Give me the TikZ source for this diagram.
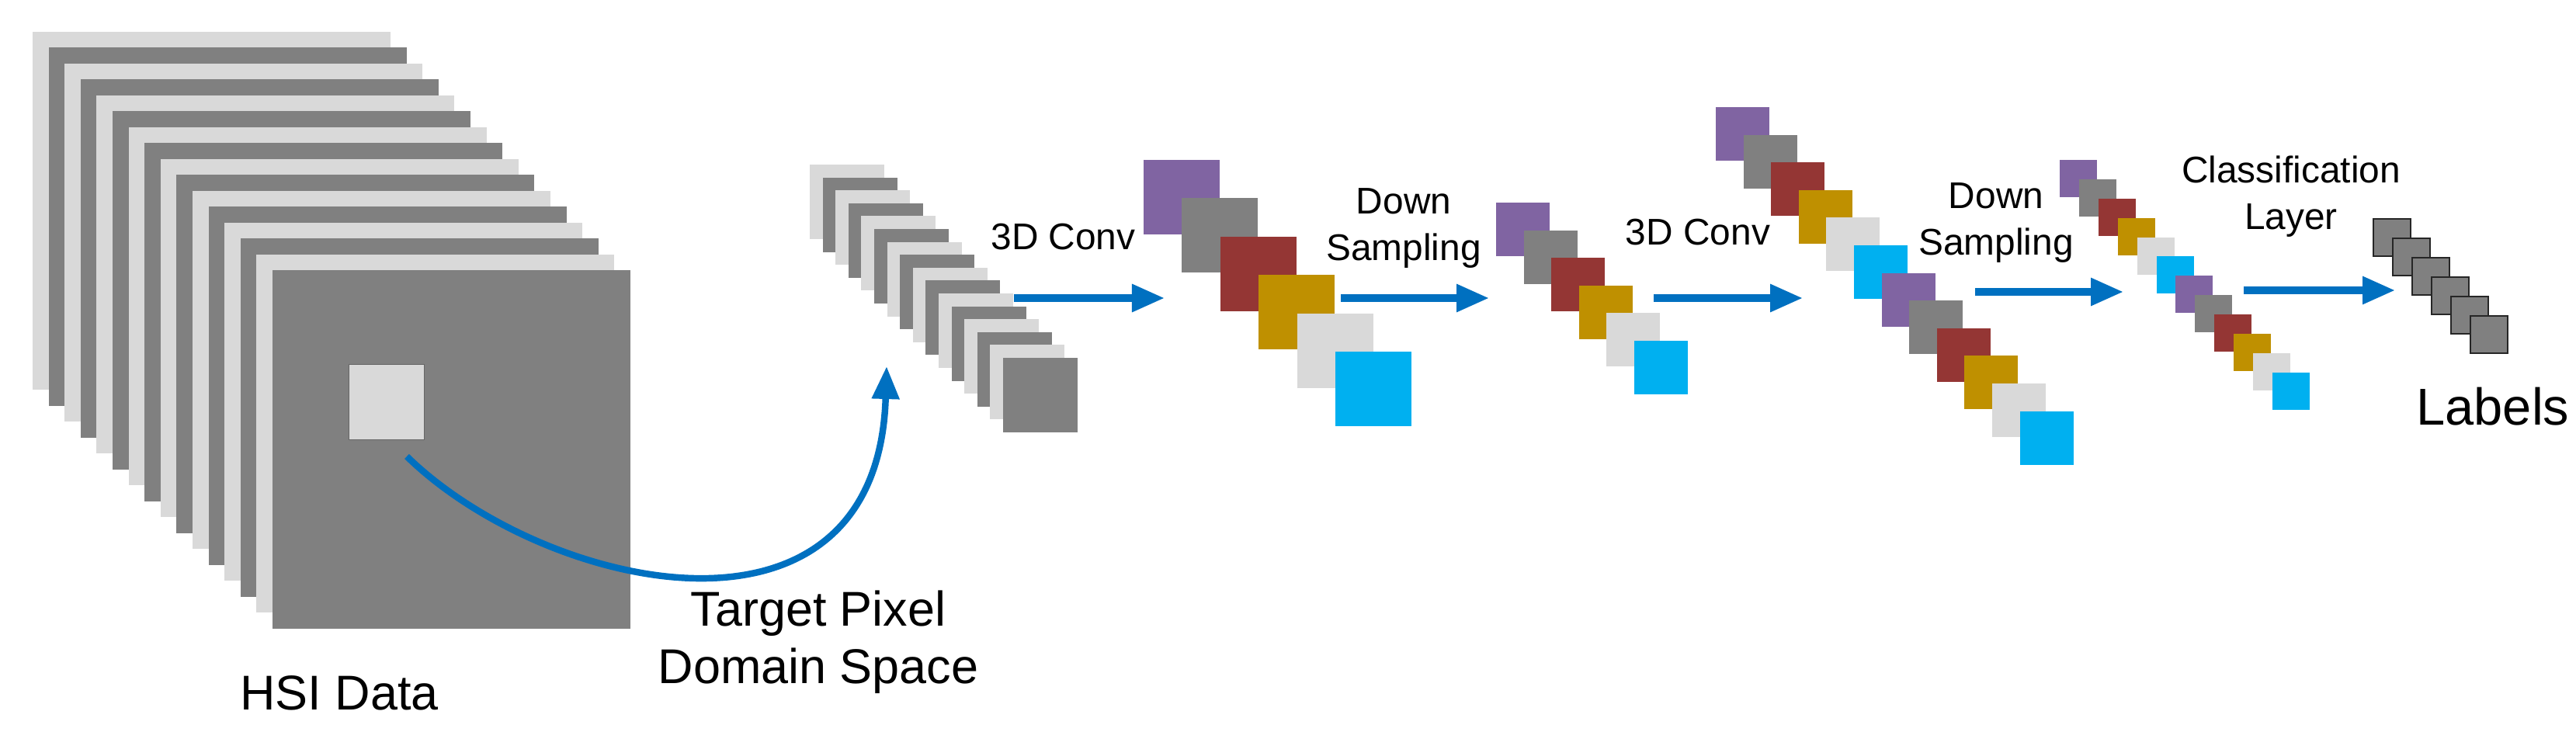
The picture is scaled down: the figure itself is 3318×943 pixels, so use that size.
\documentclass[tikz,border=0pt]{standalone}
\usepackage{fontspec}
\setmainfont{Liberation Sans}
\usetikzlibrary{arrows.meta}
\definecolor{cpur}{HTML}{8064A2}
\definecolor{cgray}{HTML}{808080}
\definecolor{cred}{HTML}{943634}
\definecolor{cgold}{HTML}{BF9000}
\definecolor{clight}{HTML}{D9D9D9}
\definecolor{cblue}{HTML}{00B0F0}
\definecolor{carrow}{HTML}{0070C0}
\begin{document}
\begin{tikzpicture}[x=0.01cm,y=-0.01cm,
  flow/.style={carrow,line width=2.6pt,-{Triangle[length=0.42cm,width=0.34cm]}},
  big/.style={font=\fontsize{17.9}{21}\selectfont,align=center},
  small/.style={font=\fontsize{13.6}{17}\selectfont,align=center}]
\useasboundingbox (0,0) rectangle (3318,943);
% HSI stack
\foreach \i in {0,...,15}{
  \pgfmathsetmacro{\xx}{42+20.6*\i}\pgfmathsetmacro{\yy}{41+20.5*\i}
  \pgfmathparse{mod(\i,2)==0?"clight":"cgray"}\edef\cc{\pgfmathresult}
  \fill[\cc] (\xx,\yy) rectangle ++(461,461);}
\node[fill=clight,draw=black!60,line width=0.3pt,minimum width=0.97cm,minimum height=0.96cm,inner sep=0] (pix) at (498,518) {};
\node[big] (hsi) at (437,893) {HSI Data};
\node[big] (tpd) at (1054,827) {Target Pixel\\Domain Space};
% pixel stack
\foreach \i in {0,...,15}{
  \pgfmathsetmacro{\xx}{1043+16.6*\i}\pgfmathsetmacro{\yy}{212+16.6*\i}
  \pgfmathparse{mod(\i,2)==0?"clight":"cgray"}\edef\cc{\pgfmathresult}
  \fill[\cc] (\xx,\yy) rectangle ++(96,96);}
\coordinate (pstart) at (524,588);
\coordinate (pend) at (1142,472);
\draw[flow,line width=2.4pt] (pstart) .. controls (700,760) and (1130,860) .. (pend);
% colour stacks
\def\cols{{"cpur","cgray","cred","cgold","clight","cblue"}}
\foreach \i in {0,...,5}{
  \pgfmathsetmacro{\xx}{1473+49.4*\i}\pgfmathsetmacro{\yy}{206+49.4*\i}
  \pgfmathparse{\cols[\i]}\edef\cc{\pgfmathresult}
  \fill[\cc] (\xx,\yy) rectangle ++(98,96);}
\foreach \i in {0,...,5}{
  \pgfmathsetmacro{\xx}{1927+35.6*\i}\pgfmathsetmacro{\yy}{261+35.6*\i}
  \pgfmathparse{\cols[\i]}\edef\cc{\pgfmathresult}
  \fill[\cc] (\xx,\yy) rectangle ++(69,69);}
\foreach \i in {0,...,11}{
  \pgfmathsetmacro{\xx}{2210+35.6*\i}\pgfmathsetmacro{\yy}{138+35.6*\i}
  \pgfmathparse{\cols[mod(\i,6)]}\edef\cc{\pgfmathresult}
  \fill[\cc] (\xx,\yy) rectangle ++(69,69);}
\foreach \i in {0,...,11}{
  \pgfmathsetmacro{\xx}{2653+24.9*\i}\pgfmathsetmacro{\yy}{206+24.9*\i}
  \pgfmathparse{\cols[mod(\i,6)]}\edef\cc{\pgfmathresult}
  \fill[\cc] (\xx,\yy) rectangle ++(48,48);}
\foreach \i in {0,...,5}{
  \pgfmathsetmacro{\xx}{3057+25*\i}\pgfmathsetmacro{\yy}{282+25*\i}
  \filldraw[fill=cgray,draw=black!85,line width=0.5pt] (\xx,\yy) rectangle ++(48,48);}
% arrows
\foreach \n/\a/\b/\y in {a1/1306/1500/384, a2/1727/1918/384, a3/2130/2322/384, a4/2544/2735/376, a5/2890/3085/374}{
  \coordinate (\n s) at (\a,\y); \coordinate (\n e) at (\b,\y);
  \draw[flow] (\n s) -- (\n e);}
% labels
\node[small,anchor=west] (c1) at (1264,305) {3D Conv};
\node[small] (d1) at (1808,294) {Down\\Sampling};
\node[small] (c2) at (2187,299) {3D Conv};
\node[small] (d2) at (2571,287) {Down\\Sampling};
\node[small] (cl) at (2951,253) {Classification\\Layer};
\node[font=\fontsize{19}{22}\selectfont,anchor=west] (lab) at (3100,524) {Labels};
\end{tikzpicture}
\end{document}
